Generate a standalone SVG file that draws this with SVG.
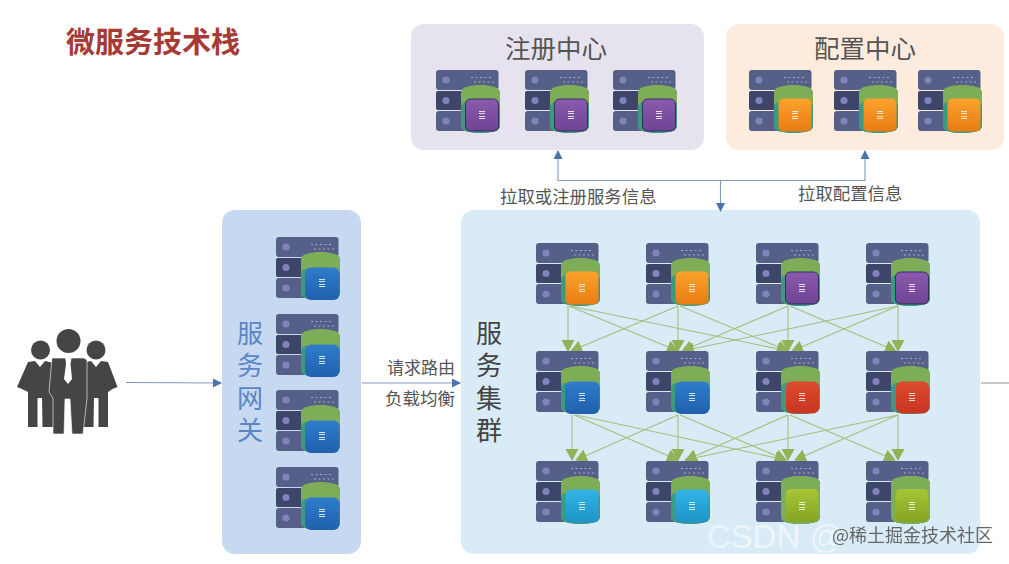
<svg xmlns="http://www.w3.org/2000/svg" width="1009" height="564" viewBox="0 0 1009 564">
<style>
text{font-family:"Noto Sans CJK SC","Liberation Sans",sans-serif}
.lbl{font-size:17.4px;fill:#555}
.head{font-size:25.5px;fill:#555;text-anchor:middle}
.vert{font-size:26px;writing-mode:vertical-rl;letter-spacing:6.5px}
.g{fill:none;stroke:#a3bf7c;stroke-width:1.1;marker-end:url(#ga)}
.b{fill:none;stroke:#7f99bc;stroke-width:1.1}
.ba{marker-end:url(#ba)}
.person{fill:#454545}
</style>
<defs>
<marker id="ga" markerUnits="userSpaceOnUse" markerWidth="14" markerHeight="14" refX="11" refY="7" orient="auto"><path d="M0 0.500L12 7L0 13.500Z" fill="#8fb356"/></marker>
<marker id="ba" markerUnits="userSpaceOnUse" markerWidth="10" markerHeight="10" refX="8" refY="4.5" orient="auto"><path d="M0 0L9 4.5L0 9Z" fill="#4a74ab"/></marker>
<linearGradient id="co" x1="0" y1="0" x2="0" y2="1"><stop offset="0" stop-color="#fba32c"/><stop offset="1" stop-color="#e87c15"/></linearGradient>
<linearGradient id="cp" x1="0" y1="0" x2="0" y2="1"><stop offset="0" stop-color="#8a5bae"/><stop offset="1" stop-color="#6f4395"/></linearGradient>
<linearGradient id="cb" x1="0" y1="0" x2="0" y2="1"><stop offset="0" stop-color="#2f7dcb"/><stop offset="1" stop-color="#2060ac"/></linearGradient>
<linearGradient id="cr" x1="0" y1="0" x2="0" y2="1"><stop offset="0" stop-color="#dc4a30"/><stop offset="1" stop-color="#c93522"/></linearGradient>
<linearGradient id="cc" x1="0" y1="0" x2="0" y2="1"><stop offset="0" stop-color="#33b5e4"/><stop offset="1" stop-color="#1f93c9"/></linearGradient>
<linearGradient id="cl" x1="0" y1="0" x2="0" y2="1"><stop offset="0" stop-color="#a8c536"/><stop offset="1" stop-color="#84a524"/></linearGradient>
<filter id="soft" x="-5%" y="-5%" width="110%" height="110%"><feGaussianBlur stdDeviation="0.6"/></filter>
<g id="srv">
<rect x="0" y="0" width="62.5" height="20" rx="3" fill="#565f88"/>
<rect x="0" y="21" width="62.5" height="19" rx="2" fill="#3c4468"/>
<rect x="0" y="41" width="62.5" height="20" rx="3" fill="#565f88"/>
<circle cx="10" cy="10" r="3.6" fill="#8183bd"/><circle cx="10" cy="30.500" r="3.6" fill="#8183bd"/><circle cx="10" cy="51" r="3.6" fill="#8183bd"/>
<path d="M35 7.500h20M38 12h20" stroke="#a3a9c8" stroke-width="1" stroke-dasharray="2 2.500"/>
<path d="M25 22C25 17 35 15 44.500 15S64 17 64 22V56C64 61 55 63 44.500 63S25 61 25 56Z" fill="#7dad57"/>
<path d="M25 38C25 33 28 32 31 32H58C62 32 64 34 64 38V56C64 61 55 63 44.500 63S25 61 25 56Z" fill="#3b9a80"/>
</g>
<g id="mark"><path d="M-3 -3.500h6M-3 -1.500h6M-3 1.500h6M-3 3.500h6" stroke="#fff" stroke-width="1" opacity=".8"/></g>
<g id="co1"><use href="#srv"/><rect x="29.500" y="28.500" width="33" height="33" rx="5" fill="url(#co)"/><use href="#mark" x="46" y="45"/></g>
<g id="cp1"><use href="#srv"/><rect x="29.500" y="29" width="33" height="32" rx="5" fill="url(#cp)" stroke="#31305f"/><use href="#mark" x="46" y="45"/></g>
<g id="cb1"><use href="#srv"/><rect x="29" y="30.500" width="34.500" height="32.500" rx="6" fill="url(#cb)"/><use href="#mark" x="46" y="46"/></g>
<g id="cr1"><use href="#srv"/><rect x="30" y="30.500" width="33" height="32" rx="6" fill="url(#cr)"/><use href="#mark" x="46" y="46"/></g>
<g id="cc1"><use href="#srv"/><rect x="29.500" y="28.500" width="33" height="33" rx="5" fill="url(#cc)"/><use href="#mark" x="46" y="45"/></g>
<g id="cl1"><use href="#srv"/><path d="M25 22C25 17 35 15 44.500 15S64 17 64 22V56C64 61 55 63 44.500 63S25 61 25 56Z" fill="#7dad57"/><rect x="29.500" y="28" width="33" height="33" rx="5" fill="url(#cl)"/><use href="#mark" x="46" y="45"/></g>
</defs>

<rect width="1009" height="564" fill="#fff"/>
<text id="title" x="66" y="52.500" font-size="29" font-weight="700" fill="#a83a36">微服务技术栈</text>

<g id="panel-register"><rect x="411" y="24" width="293" height="126" rx="13" fill="#e6e3ef"/><text class="head" x="556" y="58">注册中心</text></g>
<g id="panel-config"><rect x="726" y="24" width="278" height="126" rx="13" fill="#fdebdd"/><text class="head" x="865" y="58">配置中心</text></g>
<g id="panel-gateway"><rect x="222" y="210" width="139" height="344" rx="13" fill="#c7d9f1"/><text class="vert" fill="#5b85c4" x="250" y="320">服务网关</text></g>
<g id="panel-cluster"><rect x="461" y="210" width="519" height="344" rx="13" fill="#d9ebf6"/><text class="vert" fill="#444" x="489" y="320">服务集群</text></g>

<g id="connectors">
<path class="b ba" d="M126 382.500L221 383"/>
<path class="b ba" d="M362 383H460"/>
<path d="M981 383H1009" fill="none" stroke="#a5a5a5" stroke-width="1.200"/>
<path class="b ba" d="M558 181V151"/>
<path class="b ba" d="M865 181V151"/>
<path class="b" d="M558 180.500H865"/>
<path class="b ba" d="M720.500 181V211"/>
<path class="g" d="M568 306V351"/><path class="g" d="M569 306L678 351"/><path class="g" d="M570 306L788 351"/>
<path class="g" d="M678 306L571 351"/><path class="g" d="M678 306V351"/><path class="g" d="M680 306L788 351"/>
<path class="g" d="M788 306L682 351"/><path class="g" d="M788 306V351"/><path class="g" d="M790 306L896 351"/>
<path class="g" d="M898 306L683 351"/><path class="g" d="M898 306L792 351"/><path class="g" d="M898 306V351"/>
<path class="g" d="M572 415V460"/><path class="g" d="M574 415L678 460"/><path class="g" d="M576 415L786 460"/>
<path class="g" d="M678 415L576 460"/><path class="g" d="M678 415V460"/><path class="g" d="M680 415L786 460"/>
<path class="g" d="M788 415L686 460"/><path class="g" d="M788 415V460"/><path class="g" d="M790 415L895 460"/>
<path class="g" d="M898 415L685 460"/><path class="g" d="M898 415L795 460"/><path class="g" d="M898 415V460"/>
</g>

<g id="labels">
<text class="lbl" x="500" y="203">拉取或注册服务信息</text>
<text class="lbl" x="798" y="200">拉取配置信息</text>
<text class="lbl" style="font-size:17px" x="387" y="374">请求路由</text>
<text class="lbl" style="font-size:17.500px" x="385" y="405">负载均衡</text>
</g>

<g id="users">
<circle class="person" cx="40.500" cy="350" r="9.500"/><circle class="person" cx="96" cy="350" r="9.500"/>
<path class="person" d="M28 362L35 361L40 367L45 361L54 363V427H42.500L42 398H37.500V427H28V392L22 389L17 387Z"/>
<path class="person" d="M108 362L101 361L96 367L91 361L82 363V427H93.500L94 398H98.500V427H108V392L112.500 389L117.500 387Z"/>
<circle class="person" cx="68.500" cy="341" r="12"/>
<path class="person" d="M52 358H65L68 362L71 358H84L87 360V398L83 434H72L70 399H65L64 434H53L53 398L49 392Z" stroke="#fff" stroke-width=".6"/>
<path d="M65.500 358.500H71.500L70.500 364L72 379L68 384L64 379L66 364Z" fill="#fff"/>
</g>

<g filter="url(#soft)">
<g id="reg1" transform="translate(436,70)"><use href="#cp1"/></g>
<g id="reg2" transform="translate(525,70)"><use href="#cp1"/></g>
<g id="reg3" transform="translate(613,70)"><use href="#cp1"/></g>
<g id="cfg1" transform="translate(749,70)"><use href="#co1"/></g>
<g id="cfg2" transform="translate(834,70)"><use href="#co1"/></g>
<g id="cfg3" transform="translate(918,70)"><use href="#co1"/></g>
<g id="gw1" transform="translate(276,237)"><use href="#cb1"/></g>
<g id="gw2" transform="translate(276,314)"><use href="#cb1"/></g>
<g id="gw3" transform="translate(276,390)"><use href="#cb1"/></g>
<g id="gw4" transform="translate(276,467)"><use href="#cb1"/></g>
<g id="svc11" transform="translate(536,243)"><use href="#co1"/></g>
<g id="svc12" transform="translate(646,243)"><use href="#co1"/></g>
<g id="svc13" transform="translate(756,243)"><use href="#cp1"/></g>
<g id="svc14" transform="translate(866,243)"><use href="#cp1"/></g>
<g id="svc21" transform="translate(536,351)"><use href="#cb1"/></g>
<g id="svc22" transform="translate(646,351)"><use href="#cb1"/></g>
<g id="svc23" transform="translate(756,351)"><use href="#cr1"/></g>
<g id="svc24" transform="translate(866,351)"><use href="#cr1"/></g>
<g id="svc31" transform="translate(536,461)"><use href="#cc1"/></g>
<g id="svc32" transform="translate(646,461)"><use href="#cc1"/></g>
<g id="svc33" transform="translate(756,461)"><use href="#cl1"/></g>
<g id="svc34" transform="translate(866,461)"><use href="#cl1"/></g>
</g>

<g id="watermark">
<text x="707" y="548" font-size="33" fill="#fff" fill-opacity=".55" style="font-family:'Liberation Sans',sans-serif">CSDN @</text>
<text x="832" y="542" font-size="18" fill="#666">@稀土掘金技术社区</text>
</g>
</svg>
